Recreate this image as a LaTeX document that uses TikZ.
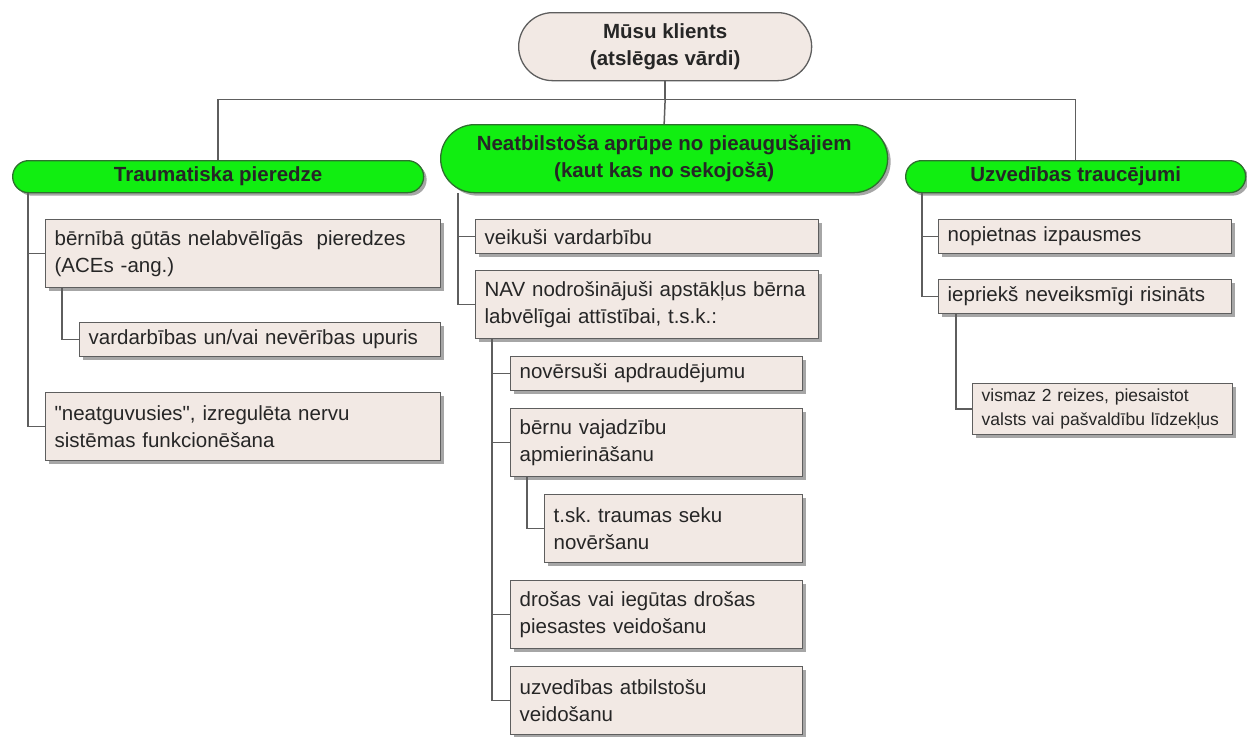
\documentclass[tikz,border=0pt]{standalone}
\usepackage{fontspec}
\setmainfont{Liberation Sans}[Ligatures=TeXOff]
\usetikzlibrary{shadows,calc}
\frenchspacing
\definecolor{beige}{HTML}{F2E9E4}
\definecolor{edge}{HTML}{5E5E5E}
\definecolor{lime}{HTML}{11EE11}
\definecolor{limeedge}{HTML}{2F6F2F}
\definecolor{wire}{HTML}{5E5E5E}
\tikzset{
  shadowed/.style={drop shadow={shadow xshift=3pt,shadow yshift=-3pt,fill=black,opacity=0.35}},
  bx/.style={draw=edge,line width=1.3pt,fill=beige,rectangle,align=left,anchor=north west,
    inner xsep=9pt,inner ysep=0pt,font=\fontsize{20.5}{27}\selectfont,text=black!85,shadowed},
  sbx/.style={bx,font=\fontsize{17.5}{24}\selectfont},
  pill/.style={draw=limeedge,line width=1.3pt,fill=lime,rectangle,align=center,anchor=north west,
    inner sep=0pt,font=\fontsize{20.5}{27}\selectfont\bfseries,text=black!85,shadowed},
  topnode/.style={draw=edge,line width=1.3pt,fill=beige,rectangle,rounded corners=34pt,align=center,
    anchor=north west,inner sep=0pt,font=\fontsize{20.5}{27}\selectfont\bfseries,text=black!85},
  wireline/.style={draw=wire,line width=1.5pt}
}
\begin{document}
\begin{tikzpicture}[x=1pt,y=-1pt]
\useasboundingbox (0,0) rectangle (1247,736);
% top
\node[topnode,minimum width=293pt,minimum height=68pt] (top) at (518,12) {Mūsu klients\\(atslēgas vārdi)};
% green headers
\node[pill,rounded corners=16pt,minimum width=411pt,minimum height=32pt] (G1) at (12,160) {Traumatiska pieredze};
\node[pill,rounded corners=34pt,minimum width=447pt,minimum height=68pt] (G2) at (440,124) {Neatbilstoša aprūpe no pieaugušajiem\\(kaut kas no sekojošā)};
\node[pill,rounded corners=16pt,minimum width=340pt,minimum height=32pt] (G3) at (905,160) {Uzvedības traucējumi};
% left column
\node[bx,text width=377pt,minimum height=68pt] (L1) at (45,219) {bērnībā gūtās nelabvēlīgās\ \ pieredzes\\(ACEs -ang.)};
\node[bx,text width=343pt,minimum height=34pt] (L2) at (79,322) {vardarbības un/vai nevērības upuris};
\node[bx,text width=377pt,minimum height=68pt] (L3) at (45,392) {"neatguvusies", izregulēta nervu\\sistēmas funkcionēšana};
% middle column
\node[bx,text width=325pt,minimum height=34pt] (M1) at (475,219) {veikuši vardarbību};
\node[bx,text width=325pt,minimum height=68pt] (M2) at (475,270) {NAV nodrošinājuši apstākļus bērna\\labvēlīgai attīstībai, t.s.k.:};
\node[bx,text width=274pt,minimum height=34pt] (M3) at (510,356) {novērsuši apdraudējumu};
\node[bx,text width=274pt,minimum height=68pt] (M4) at (510,408) {bērnu vajadzību\\apmierināšanu};
\node[bx,text width=240pt,minimum height=68pt] (M5) at (544,494) {t.sk. traumas seku\\novēršanu};
\node[bx,text width=274pt,minimum height=68pt] (M6) at (510,580) {drošas vai iegūtas drošas\\piesastes veidošanu};
\node[bx,text width=274pt,minimum height=68pt] (M7) at (510,666) {uzvedības atbilstošu\\veidošanu};
% right column
\node[bx,text width=275pt,minimum height=34pt] (R1) at (938,219) {nopietnas izpausmes};
\node[bx,text width=275pt,minimum height=34pt] (R2) at (938,279) {iepriekš neveiksmīgi risināts};
\node[sbx,text width=242pt,minimum height=51pt] (R3) at (972,383) {vismaz 2 reizes, piesaistot\\valsts vai pašvaldību līdzekļus};
% top bus
\coordinate (bus) at ($(top.south)+(0,18)$);
\draw[wireline] (top.south) -- (bus);
\draw[wireline] (G1.north) |- (bus) -| (G3.north);
\draw[wireline] (bus) -- (G2.north);
% left connectors
\coordinate (lt) at ($(G1.south west)+(16,0)$);
\draw[wireline] (lt) |- (L3.west);
\draw[wireline] (lt) |- (L1.west);
\draw[wireline] ($(L1.south west)+(17,0)$) |- (L2.west);
% middle connectors
\coordinate (mt) at ($(G2.south west)+(18,0)$);
\draw[wireline] (mt) |- (M2.west);
\draw[wireline] (mt) |- (M1.west);
\coordinate (ms) at ($(M2.south west)+(17,0)$);
\draw[wireline] (ms) |- (M7.west);
\draw[wireline] (ms) |- (M3.west);
\draw[wireline] (ms) |- (M4.west);
\draw[wireline] (ms) |- (M6.west);
\draw[wireline] ($(M4.south west)+(17,0)$) |- (M5.west);
% right connectors
\coordinate (rt) at ($(G3.south west)+(17,0)$);
\draw[wireline] (rt) |- (R2.west);
\draw[wireline] (rt) |- (R1.west);
\draw[wireline] ($(R2.south west)+(18,0)$) |- (R3.west);
\end{tikzpicture}
\end{document}
